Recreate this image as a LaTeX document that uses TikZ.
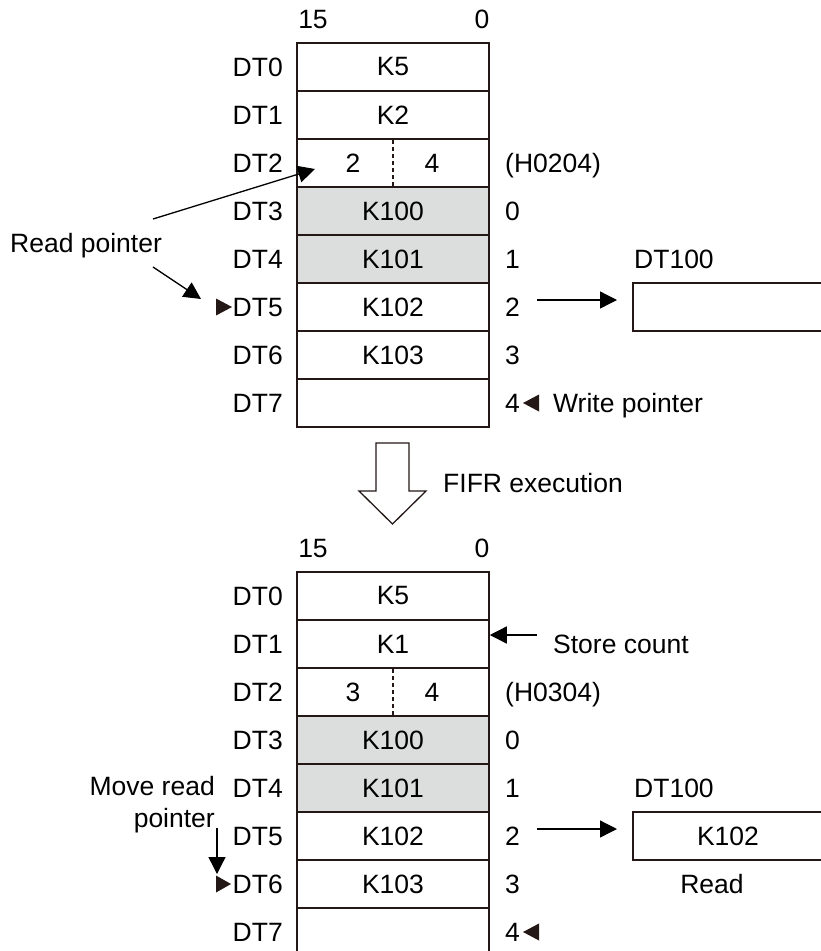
\documentclass[tikz,border=0pt]{standalone}
\usepackage{fontspec}
\setmainfont{Liberation Sans}
\usetikzlibrary{arrows.meta}
\definecolor{lc}{RGB}{35,24,21}
\definecolor{cellgray}{RGB}{220,221,221}
\newcommand{\fs}{\fontsize{26.5}{31}\selectfont}
\begin{document}
\begin{tikzpicture}[x=1pt,y=-1pt,
  cell/.style={draw=lc, line width=1.5pt, minimum width=192pt, minimum height=48pt, inner sep=0pt, font=\fs},
  graycell/.style={cell, fill=cellgray},
  lbl/.style={inner sep=0pt, font=\fs, text=black},
  dtl/.style={lbl, anchor=base east},
  rl/.style={lbl, anchor=base west},
  outbox/.style={draw=lc, line width=1.5pt, minimum width=190pt, minimum height=48pt, inner sep=0pt, font=\fs},
  arr/.style={draw=black, line width=1.3pt, -{Triangle[length=17pt,width=17pt]}},
  divider/.style={draw=lc, line width=1.2pt, dash pattern=on 4pt off 3pt},
  tri/.style={fill=lc}]
\clip (0,0) rectangle (821,951);
\fill[white] (0,0) rectangle (821,951);

% ---------------- top table ----------------
\node[lbl, anchor=base] (th15) at (313,28) {15};
\node[lbl, anchor=base] (th0) at (482,28) {0};
\foreach \i in {0,...,7} {
  \node[dtl] (tl\i) at (283,{76+48*\i}) {DT\i};
}
\node[cell] (tc0) at (393,67) {K5};
\node[cell] (tc1) at (393,115) {K2};
\node[cell] (tc2) at (393,163) {};
\node[graycell] (tc3) at (393,211) {K100};
\node[graycell] (tc4) at (393,259) {K101};
\node[cell] (tc5) at (393,307) {K102};
\node[cell] (tc6) at (393,355) {K103};
\node[cell] (tc7) at (393,403) {};
\draw[divider] ([yshift=-2pt]tc2.north) -- ([yshift=2pt]tc2.south);
\node[lbl] (tc2a) at (353,163) {2};
\node[lbl] (tc2b) at (432,163) {4};

\node[rl] (tr2) at (505,172) {(H0204)};
\node[rl] (tr3) at (505,220) {0};
\node[rl] (tr4) at (505,268) {1};
\node[rl] (tr5) at (505,316) {2};
\node[rl] (tr6) at (505,364) {3};
\node[rl] (tr7) at (505,412) {4};
\fill[tri] (523,403) -- (539,394.5) -- (539,411.5) -- cycle;
\node[rl] (twp) at (553,412) {Write pointer};

\node[rl] (tdt100) at (634,268) {DT100};
\node[outbox] (tbox) at (728,307) {};
\coordinate (ta1) at (537,300);
\coordinate (ta2) at (617,300);
\draw[arr] (ta1) -- (ta2);

\node[rl] (rp) at (10,252) {Read pointer};
\coordinate (rp1s) at (153,219);
\coordinate (rp1e) at (315,169);
\draw[arr] (rp1s) -- (rp1e);
\coordinate (rp2s) at (153,267);
\coordinate (rp2e) at (201,299);
\draw[arr] (rp2s) -- (rp2e);
\fill[tri] (232,307) -- (216,298.5) -- (216,315.5) -- cycle;

% ---------------- FIFR arrow ----------------
\draw[lc, line width=1.3pt, fill=white, line join=miter]
  (376,443) -- (409,443) -- (409,491) -- (426,491) -- (392.5,524) -- (359,491) -- (376,491) -- cycle;
\node[rl] (fifr) at (443,492) {FIFR execution};

% ---------------- bottom table ----------------
\node[lbl, anchor=base] (bh15) at (313,557) {15};
\node[lbl, anchor=base] (bh0) at (482,557) {0};
\foreach \i in {0,...,7} {
  \node[dtl] (bl\i) at (283,{605+48*\i}) {DT\i};
}
\node[cell] (bc0) at (393,596) {K5};
\node[cell] (bc1) at (393,644) {K1};
\node[cell] (bc2) at (393,692) {};
\node[graycell] (bc3) at (393,740) {K100};
\node[graycell] (bc4) at (393,788) {K101};
\node[cell] (bc5) at (393,836) {K102};
\node[cell] (bc6) at (393,884) {K103};
\node[cell] (bc7) at (393,932) {};
\draw[divider] ([yshift=-2pt]bc2.north) -- ([yshift=2pt]bc2.south);
\node[lbl] (bc2a) at (353,692) {3};
\node[lbl] (bc2b) at (432,692) {4};

\coordinate (sc1) at (537,635);
\draw[arr] (sc1) -- (bc1.east |- sc1);
\node[rl] (sct) at (553,653) {Store count};

\node[rl] (br2) at (505,701) {(H0304)};
\node[rl] (br3) at (505,749) {0};
\node[rl] (br4) at (505,797) {1};
\node[rl] (br5) at (505,845) {2};
\node[rl] (br6) at (505,893) {3};
\node[rl] (br7) at (505,941) {4};
\fill[tri] (523,932) -- (539,923.5) -- (539,940.5) -- cycle;

\node[rl] (bdt100) at (634,797) {DT100};
\node[outbox] (bbox) at (728,836) {K102};
\coordinate (ba1) at (537,829);
\coordinate (ba2) at (617,829);
\draw[arr] (ba1) -- (ba2);
\node[lbl, anchor=base] (bread) at (712,893) {Read};

\node[dtl] (mrp1) at (215,795) {Move read};
\node[dtl] (mrp2) at (215,827) {pointer};
\coordinate (mrs) at (217,828);
\coordinate (mre) at (217,874);
\draw[arr] (mrs) -- (mre);
\fill[tri] (231,884) -- (216,875.5) -- (216,892.5) -- cycle;
\end{tikzpicture}
\end{document}
